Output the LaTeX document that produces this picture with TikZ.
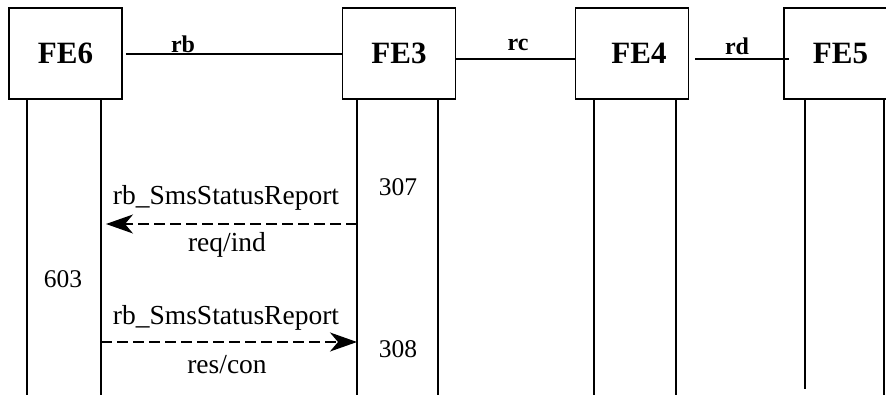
\documentclass[tikz,border=0pt]{standalone}
\usepackage{fontspec}
\setmainfont{Liberation Serif}
\usetikzlibrary{arrows.meta}
\begin{document}
\begin{tikzpicture}[x=1pt,y=-1pt,
  febox/.style={draw,line width=1.6pt,minimum width=113pt,minimum height=91pt,inner sep=0pt,
    font=\fontsize{31}{36}\selectfont\bfseries},
  iflabel/.style={inner sep=0pt,font=\fontsize{24}{28}\selectfont\bfseries},
  ifline/.style={line width=1.5pt},
  life/.style={line width=1.4pt},
  msgtxt/.style={inner sep=0pt,font=\fontsize{27.5}{31}\selectfont},
  numtxt/.style={inner sep=0pt,font=\fontsize{25.5}{30}\selectfont},
  msg/.style={line width=1.4pt,dash pattern=on 11pt off 5pt,
    -{Stealth[length=27pt,width=19pt,inset=8pt]}}]
\useasboundingbox (0,0) rectangle (886,395);
% boxes
\node[febox] (fe6) at (65.5,53.5) {FE6};
\node[febox] (fe3) at (399,53.5) {FE3};
\node[febox] (fe4) at (632,53.5) {\hspace*{14pt}FE4};
\node[febox] (fe5) at (840.5,53.5) {FE5};
% interfaces
\draw[ifline] ([xshift=3pt,yshift=-0.5pt]fe6.east) -- ([yshift=-0.5pt]fe3.west);
\draw[ifline] ([yshift=-5.5pt]fe3.east) -- ([yshift=-5.5pt]fe4.west);
\draw[ifline] ([xshift=6pt,yshift=-5.5pt]fe4.east) -- ([xshift=6pt,yshift=-5.5pt]fe5.west);
\node[iflabel] (rb) at (183,44) {rb};
\node[iflabel] (rc) at (518,45) {rc};
\node[iflabel] (rd) at (737,46) {rd};
% lifelines
\coordinate (t6a) at (27,99);  \coordinate (b6a) at (27,395);
\coordinate (t6b) at (101,99); \coordinate (b6b) at (101,395);
\coordinate (t3a) at (357,99); \coordinate (b3a) at (357,395);
\coordinate (t3b) at (438,99); \coordinate (b3b) at (438,395);
\coordinate (t4a) at (594,99); \coordinate (b4a) at (594,395);
\coordinate (t4b) at (676,99); \coordinate (b4b) at (676,395);
\coordinate (t5a) at (805,99); \coordinate (b5a) at (805,389);
\coordinate (t5b) at (884,99); \coordinate (b5b) at (884,395);
\foreach \p in {6a,6b,3a,3b,4a,4b,5a,5b}{\draw[life] (t\p) -- (b\p);}
% messages
\coordinate (m1s) at (357,224); \coordinate (m1e) at (106,224);
\coordinate (m2s) at (101,342); \coordinate (m2e) at (357,342);
\draw[msg] (m1s) -- (m1e);
\draw[msg] (m2s) -- (m2e);
\node[msgtxt] (t1) at (226,198) {rb\_SmsStatusReport};
\node[msgtxt] (t2) at (227,245) {req/ind};
\node[msgtxt] (t3) at (226,318) {rb\_SmsStatusReport};
\node[msgtxt] (t4) at (227,365) {res/con};
\node[numtxt] (n307) at (398,187) {307};
\node[numtxt] (n308) at (398,349) {308};
\node[numtxt] (n603) at (63,279) {603};
\end{tikzpicture}
\end{document}
